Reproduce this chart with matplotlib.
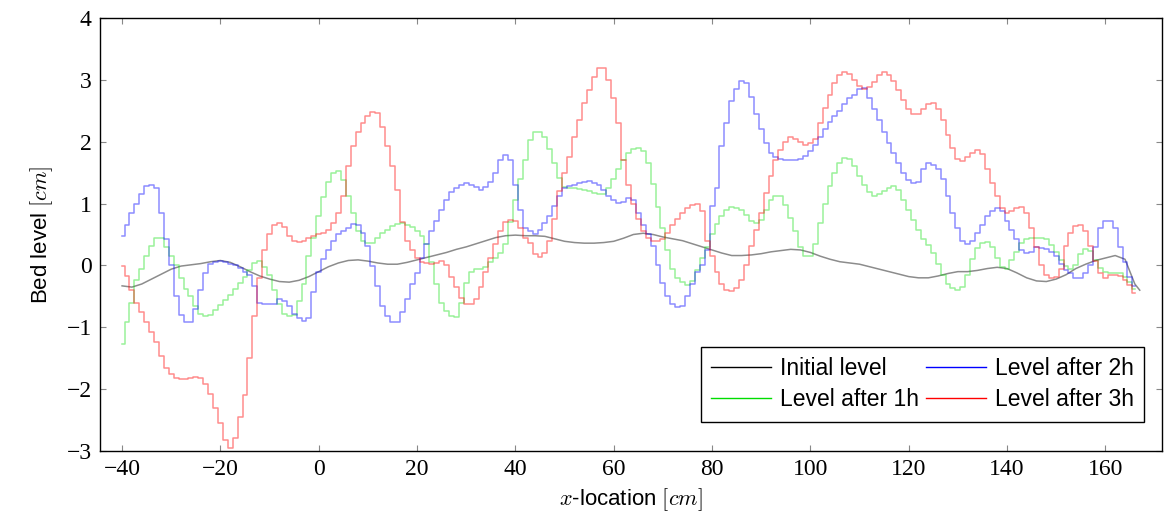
import numpy as np
import matplotlib.pyplot as plt
from matplotlib.lines import Line2D

plt.rcParams['mathtext.fontset'] = 'cm'

# bed profiles sampled every 1 cm from -40 to 166 cm
x = np.arange(-40, 167)

level_2h = [
    0.47, 0.65, 0.85, 1.0, 1.15, 1.28, 1.3, 1.25, 0.85, 0.42,
    0.0, -0.5, -0.8, -0.92, -0.92, -0.7, -0.4, -0.12, 0.03, 0.06,
    0.07, 0.06, 0.02, 0.0, -0.04, -0.1, -0.15, -0.33, -0.6, -0.62,
    -0.63, -0.63, -0.55, -0.58, -0.65, -0.78, -0.85, -0.9, -0.85, -0.43,
    -0.1, 0.1, 0.25, 0.4, 0.5, 0.56, 0.6, 0.67, 0.65, 0.53,
    0.31, -0.01, -0.33, -0.65, -0.82, -0.92, -0.92, -0.75, -0.55, -0.3,
    -0.12, 0.12, 0.35, 0.55, 0.72, 0.9, 1.06, 1.18, 1.25, 1.3,
    1.33, 1.3, 1.26, 1.22, 1.26, 1.35, 1.5, 1.7, 1.79, 1.7,
    1.3, 0.9, 0.6, 0.55, 0.5, 0.58, 0.68, 0.8, 0.96, 1.12,
    1.25, 1.28, 1.3, 1.33, 1.35, 1.36, 1.33, 1.3, 1.22, 1.12,
    1.06, 1.01, 1.03, 1.09, 1.05, 0.85, 0.65, 0.5, 0.31, 0.0,
    -0.28, -0.5, -0.62, -0.67, -0.65, -0.5, -0.3, -0.1, 0.0, 0.25,
    0.96, 1.25, 1.93, 2.3, 2.65, 2.85, 2.98, 2.95, 2.72, 2.45,
    2.2, 1.98, 1.82, 1.75, 1.72, 1.71, 1.7, 1.71, 1.72, 1.76,
    1.85, 1.95, 2.08, 2.2, 2.32, 2.42, 2.5, 2.6, 2.7, 2.76,
    2.85, 2.86, 2.7, 2.52, 2.35, 2.15, 1.98, 1.82, 1.65, 1.5,
    1.38, 1.33, 1.35, 1.55, 1.65, 1.63, 1.55, 1.39, 1.12, 0.85,
    0.6, 0.4, 0.34, 0.39, 0.53, 0.66, 0.8, 0.88, 0.93, 0.88,
    0.72, 0.58, 0.42, 0.25, 0.2, 0.22, 0.3, 0.28, 0.26, 0.22,
    0.15, 0.02, -0.08, -0.12, -0.2, -0.2, -0.12, 0.0, 0.3, 0.6,
    0.72, 0.72, 0.6, 0.3, 0.05, -0.18, -0.33,
]

level_1h = [
    -1.27, -0.92, -0.6, -0.23, -0.06, 0.15, 0.31, 0.44, 0.45, 0.3,
    0.15, 0.0, -0.2, -0.38, -0.5, -0.65, -0.78, -0.82, -0.8, -0.72,
    -0.64, -0.56, -0.48, -0.38, -0.28, -0.18, -0.08, 0.04, 0.07, -0.02,
    -0.15, -0.4, -0.62, -0.78, -0.82, -0.8, -0.58, -0.3, 0.15, 0.45,
    0.8, 1.1, 1.35, 1.5, 1.52, 1.38, 1.12, 0.85, 0.55, 0.4,
    0.37, 0.37, 0.45, 0.52, 0.58, 0.64, 0.67, 0.69, 0.66, 0.62,
    0.56, 0.48, 0.35, 0.05, -0.3, -0.6, -0.74, -0.82, -0.84, -0.6,
    -0.28, -0.1, -0.06, -0.06, -0.02, 0.05, 0.12, 0.2, 0.35, 0.7,
    1.05, 1.4, 1.7, 2.03, 2.15, 2.16, 2.08, 1.88, 1.65, 1.42,
    1.27, 1.25, 1.25, 1.23, 1.22, 1.2, 1.17, 1.16, 1.15, 1.25,
    1.4, 1.55, 1.7, 1.82, 1.88, 1.9, 1.85, 1.65, 1.32, 0.95,
    0.6, 0.25, -0.05, -0.2, -0.27, -0.31, -0.25, -0.08, 0.12, 0.3,
    0.5, 0.67, 0.8, 0.9, 0.95, 0.93, 0.9, 0.82, 0.72, 0.68,
    0.74, 0.9, 1.05, 1.12, 1.12, 0.98, 0.76, 0.55, 0.3, 0.15,
    0.15, 0.35, 0.68, 1.0, 1.28, 1.5, 1.65, 1.74, 1.72, 1.6,
    1.45, 1.3, 1.18, 1.12, 1.15, 1.2, 1.25, 1.28, 1.22, 1.06,
    0.9, 0.74, 0.58, 0.42, 0.33, 0.2, 0.02, -0.15, -0.3, -0.37,
    -0.39, -0.35, -0.15, 0.1, 0.28, 0.37, 0.38, 0.3, 0.12, -0.02,
    -0.06, 0.08, 0.22, 0.36, 0.42, 0.45, 0.45, 0.45, 0.42, 0.33,
    0.22, 0.08, -0.01, -0.06, 0.0, 0.18, 0.27, 0.24, 0.08, -0.04,
    -0.1, -0.12, -0.12, -0.13, -0.18, -0.26, -0.38,
]

level_3h = [
    -0.01, -0.17, -0.39, -0.6, -0.76, -0.92, -1.08, -1.24, -1.47, -1.65,
    -1.75, -1.82, -1.84, -1.83, -1.82, -1.8, -1.82, -1.92, -2.08, -2.3,
    -2.55, -2.82, -2.95, -2.78, -2.45, -2.1, -1.5, -0.82, -0.2, 0.25,
    0.5, 0.65, 0.68, 0.62, 0.48, 0.4, 0.38, 0.4, 0.44, 0.47,
    0.5, 0.53, 0.58, 0.69, 0.85, 1.12, 1.6, 1.93, 2.15, 2.3,
    2.42, 2.48, 2.46, 2.24, 1.93, 1.6, 1.22, 0.7, 0.4, 0.25,
    0.12, 0.06, 0.04, 0.02, 0.04, 0.07, 0.0, -0.18, -0.35, -0.52,
    -0.62, -0.63, -0.55, -0.35, -0.1, 0.12, 0.35, 0.55, 0.7, 0.74,
    0.72, 0.6, 0.45, 0.37, 0.18, 0.13, 0.2, 0.4, 0.75, 1.2,
    1.5, 1.75, 2.08, 2.35, 2.63, 2.84, 3.05, 3.19, 3.19, 3.0,
    2.7, 2.3, 1.71, 1.3, 1.0, 0.75, 0.55, 0.45, 0.39, 0.39,
    0.42, 0.52, 0.65, 0.75, 0.85, 0.92, 0.97, 1.0, 0.88, 0.4,
    0.15, -0.1, -0.3, -0.4, -0.42, -0.36, -0.23, 0.0, 0.31, 0.58,
    0.85, 1.17, 1.44, 1.71, 1.87, 2.0, 2.08, 2.05, 2.0, 1.95,
    1.97, 2.05, 2.3, 2.55, 2.75, 2.95, 3.08, 3.13, 3.1, 3.0,
    2.9, 2.85, 2.88, 2.97, 3.08, 3.13, 3.08, 2.98, 2.84, 2.68,
    2.52, 2.45, 2.45, 2.52, 2.6, 2.63, 2.52, 2.35, 2.1, 1.9,
    1.72, 1.68, 1.75, 1.82, 1.87, 1.8, 1.55, 1.33, 1.12, 0.93,
    0.85, 0.88, 0.93, 0.95, 0.85, 0.6, 0.3, 0.0, -0.15, -0.2,
    -0.18, -0.05, 0.31, 0.53, 0.63, 0.66, 0.55, 0.32, 0.07, -0.12,
    -0.2, -0.16, -0.15, -0.17, -0.23, -0.31, -0.45,
]

# initial bed, every 2 cm
x0 = np.append(np.arange(-40, 167, 2), 167)
level_0 = [
    -0.33, -0.35, -0.3, -0.22, -0.14, -0.06, -0.01, 0.01, 0.03, 0.06,
    0.08, 0.05, -0.02, -0.1, -0.17, -0.22, -0.26, -0.27, -0.24, -0.18,
    -0.1, -0.02, 0.04, 0.08, 0.09, 0.07, 0.04, 0.02, 0.02, 0.05,
    0.09, 0.13, 0.17, 0.21, 0.26, 0.3, 0.35, 0.4, 0.45, 0.48,
    0.49, 0.48, 0.48, 0.47, 0.43, 0.39, 0.37, 0.36, 0.36, 0.37,
    0.39, 0.44, 0.5, 0.52, 0.5, 0.46, 0.43, 0.4, 0.35, 0.3,
    0.25, 0.2, 0.16, 0.16, 0.17, 0.19, 0.22, 0.24, 0.26, 0.25,
    0.21, 0.15, 0.1, 0.06, 0.04, 0.02, -0.02, -0.06, -0.1, -0.14,
    -0.18, -0.2, -0.2, -0.17, -0.13, -0.1, -0.1, -0.08, -0.05, -0.03,
    -0.05, -0.12, -0.2, -0.25, -0.26, -0.22, -0.15, -0.05, 0.02, 0.08,
    0.12, 0.16, 0.1, -0.3, -0.4,
]

labels = ['Initial level', 'Level after 1h', 'Level after 2h', 'Level after 3h']
colors = ['black', '#00dd00', 'blue', 'red']

fig = plt.figure(figsize=(11.76, 5.24), dpi=100)
ax = fig.add_axes([0.085, 0.139, 0.903, 0.827])

ax.plot(x0, level_0, color='black', alpha=0.45, lw=1.1)
ax.plot(x, level_1h, color=colors[1], alpha=0.4, lw=1.1, drawstyle='steps-mid')
ax.plot(x, level_2h, color=colors[2], alpha=0.45, lw=1.1, drawstyle='steps-mid')
ax.plot(x, level_3h, color=colors[3], alpha=0.45, lw=1.1, drawstyle='steps-mid')

ax.set_xlim(-44.5, 171.5)
ax.set_ylim(-3, 4)
ax.set_xticks(np.arange(-40, 161, 20))
ax.set_yticks(np.arange(-3, 5, 1))
ax.tick_params(direction='in', top=True, right=True, length=4, color='#888888',
               labelsize=17, pad=6)
for lab in ax.get_xticklabels() + ax.get_yticklabels():
    lab.set_family('Liberation Serif')
for s in ax.spines.values():
    s.set_linewidth(1.0)

ax.set_xlabel(r'$x$-location $[cm]$', fontsize=16, family='Liberation Sans', labelpad=4)
ax.set_ylabel(r'Bed level $[cm]$', fontsize=16, family='Liberation Sans', labelpad=8)

handles = [Line2D([], [], color=c, lw=1.0) for c in colors]
leg = ax.legend(handles, labels, ncol=2, loc='lower right',
                prop={'family': 'Liberation Sans', 'size': 16.5},
                frameon=True, fancybox=False, edgecolor='black', framealpha=1,
                handlelength=2.6, handletextpad=0.4, columnspacing=0.3,
                borderpad=0.45, labelspacing=0.35, bbox_to_anchor=(0.994, 0.042))
leg.get_frame().set_linewidth(1.0)

fig.savefig('out.png')
